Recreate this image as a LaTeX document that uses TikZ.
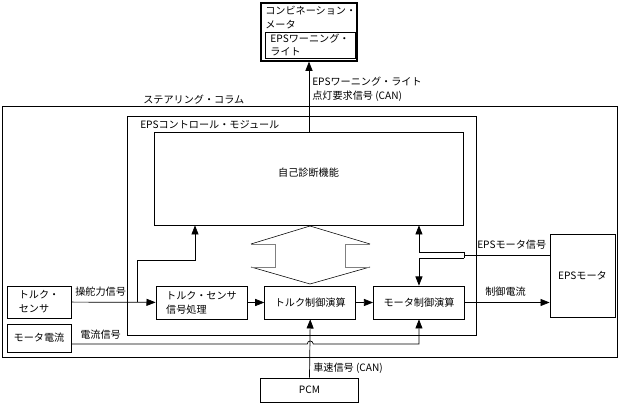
\documentclass[tikz,border=0pt]{standalone}
\usepackage{fontspec}
\setmainfont{Noto Sans CJK JP}
\usetikzlibrary{arrows.meta, positioning, calc}

\begin{document}
\begin{tikzpicture}[x=0.025cm, y=-0.025cm,
  font=\fontsize{7.2}{9.8}\selectfont,
  box/.style={draw, line width=0.5pt, inner sep=0pt},
  outerbox/.style={draw, line width=0.7pt, inner sep=0pt},
  sig/.style={line width=0.5pt, -{Triangle[length=6.5pt, width=5pt]}},
  wire/.style={line width=0.5pt},
  lbl/.style={inner sep=0pt, align=left}]
  \useasboundingbox (0,0) rectangle (620,405);

  % steering column and control module
  \node[outerbox, minimum width=15.35cm, minimum height=6.25cm] (column) at (310,232) {};
  \node[lbl, anchor=base west] (columntxt) at (143,104) {ステアリング・コラム};
  \node[outerbox, minimum width=8.7cm, minimum height=5.45cm] (ecu) at (302,226) {};
  \node[lbl, anchor=base west] (ecutxt) at (140,129) {EPSコントロール・モジュール};
  \node[box, minimum width=7.725cm, minimum height=2.325cm] (diag) at (308.5,178.5) {};
  \node (diagtxt) at (308.5,173) {自己診断機能};

  % combination meter
  \node[outerbox, line width=0.9pt, minimum width=2.4cm, minimum height=1.45cm] (meter) at (309,32) {};
  \node[lbl, anchor=north west] (metertxt) at (265,6) {コンビネーション・\\メータ};
  \node[box, align=left, minimum width=2.25cm, minimum height=0.65cm] (lamp) at (310,45) {EPSワーニング・\\ライト};

  % sensors, calculation chain, motor
  \node[box, align=left, minimum width=1.6cm, minimum height=0.8cm] (tsensor) at (39,302) {トルク・\\センサ};
  \node[box, minimum width=1.6cm, minimum height=0.7cm] (mcur) at (39,338) {モータ電流};
  \node[box, align=left, minimum width=2.275cm, minimum height=0.825cm] (sigproc) at (201.5,302.5) {トルク・センサ\\信号処理};
  \node[box, minimum width=2.275cm, minimum height=0.825cm, right=0.425cm of sigproc] (tcalc) {トルク制御演算};
  \node[box, minimum width=2.275cm, minimum height=0.825cm, right=0.425cm of tcalc] (mcalc) {モータ制御演算};
  \node[box, minimum width=1.625cm, minimum height=2.075cm] (motor) at (582.5,275.5) {EPSモータ};
  \node[box, minimum width=2.45cm, minimum height=0.6cm] (pcm) at (309.5,390) {PCM};

  % two-way arrow between diag and calc
  \draw[line width=0.4pt] (251,244) -- (310,226) -- (370,244) (251,267) -- (310,284) -- (370,267);
  \draw[line width=0.5pt, gray] (251,244) -| (275,267) -- (251,267) (370,244) -| (345,267) -- (370,267);

  % signals
  \draw[sig] (meter.south |- diag.north) -- (meter.south);
  \node[lbl, anchor=north west] (lampsig) at (312,77) {EPSワーニング・ライト\\点灯要求信号 (CAN)};

  \draw[sig] (tsensor) -- (sigproc);
  \node[lbl, anchor=base west] (steertxt) at (75,296) {操舵力信号};
  \coordinate (split) at (137,302);
  \coordinate (bend) at (195,260);
  \draw[sig] (split) |- (bend) -- (bend |- diag.south);

  \draw[sig] (sigproc) -- (tcalc);
  \draw[sig] (tcalc) -- (mcalc);
  \draw[sig] (mcalc.east) -- (mcalc.east -| motor.west);
  \node[lbl, anchor=base west] (currtxt) at (485,296) {制御電流};

  \coordinate (fork) at (464,255.5);
  \draw[wire] (motor.west |- fork) -- (fork);
  \draw[wire] ($(fork)+(0,-3)$) -- ($(fork)+(0,3)$);
  \draw[sig] ($(fork)+(0,-3)$) -| (mcalc.north |- diag.south);
  \draw[sig] ($(fork)+(0,3)$) -| (mcalc.north);
  \node[lbl, anchor=base west] (motorsig) at (477,249) {EPSモータ信号};

  \draw[sig] ($(mcur.east)+(0,6)$) -- ($(tcalc.south |- mcur.east)+(-3,6)$)
    arc[start angle=180, end angle=0, radius=0.075cm] -- ($(mcalc.south |- mcur.east)+(0,6)$) -- (mcalc.south);
  \node[lbl, anchor=base west] (mcurtxt) at (80,339) {電流信号};

  \draw[sig] (pcm.north) -- (tcalc.south);
  \node[lbl, anchor=base west] (speedtxt) at (313,372) {車速信号 (CAN)};
\end{tikzpicture}
\end{document}
